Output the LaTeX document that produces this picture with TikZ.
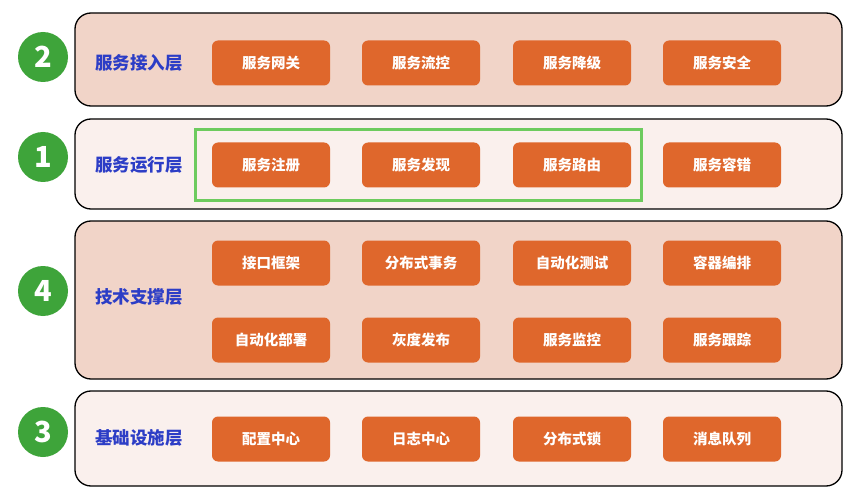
\documentclass[tikz,border=0pt]{standalone}
\usepackage{fontspec}
\setmainfont{Noto Sans CJK SC}
\usetikzlibrary{fit}
\definecolor{bandDark}{HTML}{F1D4C8}
\definecolor{bandLight}{HTML}{FAF0ED}
\definecolor{boxOrange}{HTML}{DF672C}
\definecolor{badgeGreen}{HTML}{3EA43A}
\definecolor{labelBlue}{HTML}{2C3DC6}
\definecolor{frameGreen}{HTML}{6DCB5E}
\tikzset{
    band/.style={draw=black, line width=1.3pt, rounded corners=16pt},
    item/.style={fill=boxOrange, rounded corners=6pt, minimum width=118pt,
        minimum height=45pt, inner sep=0pt, text=white,
        font=\fontsize{14.5}{14.5}\selectfont\bfseries},
    badge/.style={circle, fill=badgeGreen, minimum size=50pt, inner sep=0pt,
        text=white, font=\fontsize{29}{29}\selectfont\bfseries},
    layername/.style={anchor=west, inner sep=0pt, text=labelBlue,
        font=\fontsize{17.5}{17.5}\selectfont\bfseries},
}
% #1 top, #2 bottom, #3 fill, #4 badge y, #5 number, #6 name y, #7 name
\newcommand\Layer[7]{%
    \draw[band, fill=#3] (75,#1) rectangle (842,#2);
    \node[badge] (Num#5) at (43,#4) {#5};
    \node[layername] (Name#5) at (95,#6) {#7};
}

\begin{document}
\begin{tikzpicture}[x=1pt, y=-1pt]
    \useasboundingbox[fill=white] (0,0) rectangle (868,500);
    \Layer{13}{106}{bandDark}{57}{2}{63}{服务接入层}
    \Layer{119}{209}{bandLight}{157}{1}{165}{服务运行层}
    \Layer{221}{379}{bandDark}{291}{4}{297}{技术支撑层}
    \Layer{391}{486}{bandLight}{432}{3}{438}{基础设施层}
    % access layer
    \foreach \x/\t [count=\i] in {271/服务网关, 421/服务流控, 572/服务降级, 722/服务安全}
        \node[item] (access\i) at (\x,63) {\t};
    % run layer
    \foreach \x/\t [count=\i] in {271/服务注册, 421/服务发现, 572/服务路由, 722/服务容错}
        \node[item] (run\i) at (\x,165) {\t};
    \node[draw=frameGreen, line width=3pt, inner xsep=13pt, inner ysep=13pt,
        xshift=-3pt, fit=(run1)(run3)] (core) {};
    % support layer
    \foreach \x/\t [count=\i] in {271/接口框架, 421/分布式事务, 572/自动化测试, 722/容器编排}
        \node[item] (tech\i) at (\x,263) {\t};
    \foreach \x/\t [count=\i] in {271/自动化部署, 421/灰度发布, 572/服务监控, 722/服务跟踪}
        \node[item] (ops\i) at (\x,340) {\t};
    % infrastructure layer
    \foreach \x/\t [count=\i] in {271/配置中心, 421/日志中心, 572/分布式锁, 722/消息队列}
        \node[item] (infra\i) at (\x,439) {\t};
\end{tikzpicture}
\end{document}
